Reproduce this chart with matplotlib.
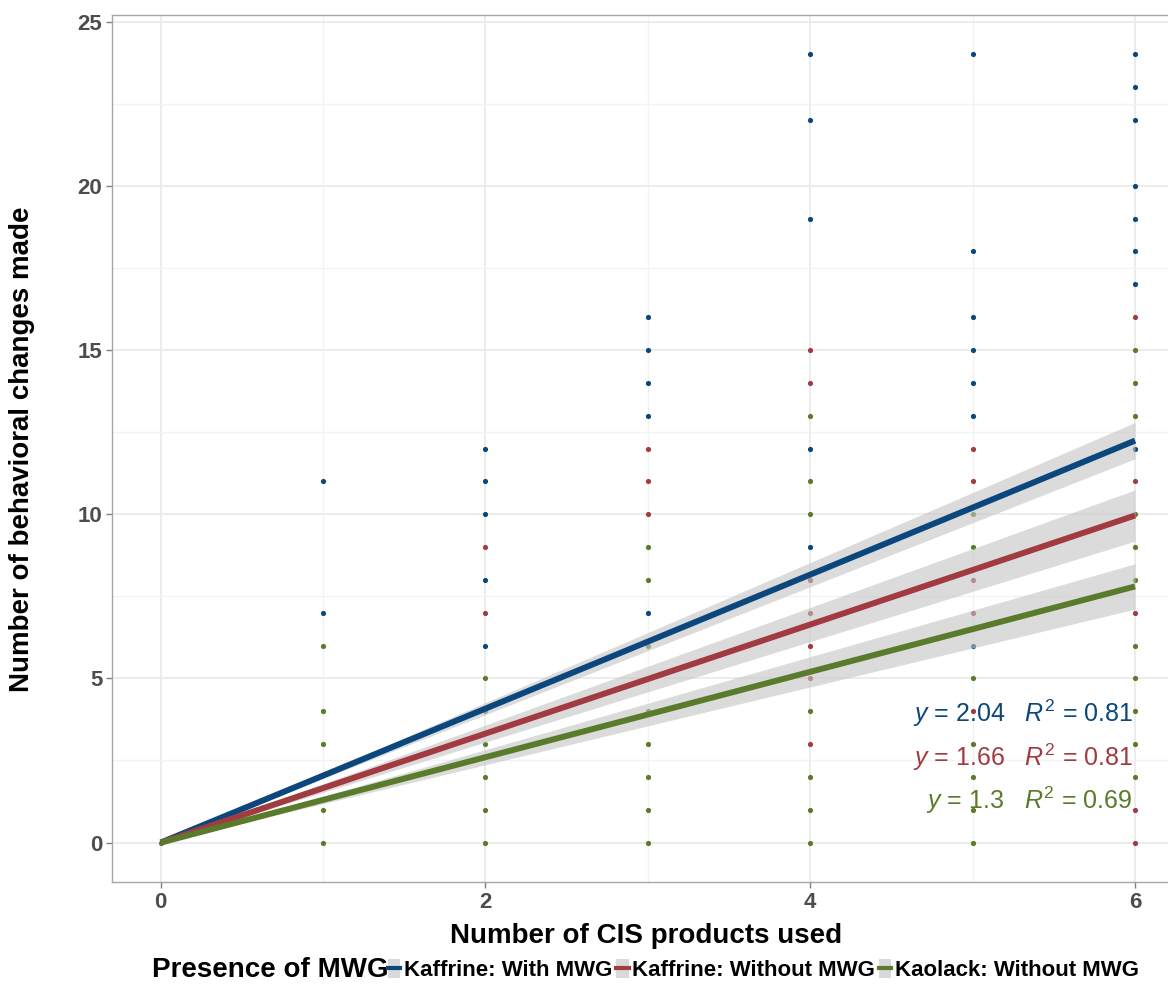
import matplotlib
matplotlib.use("Agg")
import matplotlib.pyplot as plt
import numpy as np
from matplotlib.lines import Line2D
from matplotlib.patches import Patch
from matplotlib.legend_handler import HandlerTuple

plt.rcParams['font.family'] = ['Liberation Sans', 'DejaVu Sans']
plt.rcParams['mathtext.fontset'] = 'custom'
plt.rcParams['mathtext.it'] = 'Liberation Sans:italic'
plt.rcParams['mathtext.rm'] = 'Liberation Sans'

groups = ["Kaffrine: With MWG", "Kaffrine: Without MWG", "Kaolack: Without MWG"]
colors = ["#0B477C", "#A23B40", "#5A7A2C"]

blue_x = [1, 1, 2, 2, 2, 2, 2, 3, 3, 3, 3, 3, 4, 4, 4, 4, 4,
          5, 5, 5, 5, 5, 5, 5, 6, 6, 6, 6, 6, 6, 6, 6]
blue_y = [11, 7, 12, 11, 10, 8, 6, 16, 15, 14, 13, 7, 24, 22, 19, 12, 9,
          24, 18, 16, 15, 14, 13, 6, 24, 23, 22, 20, 19, 18, 17, 12]

red_x = [2, 2, 3, 3, 3, 4, 4, 4, 4, 4, 4, 4, 5, 5, 5, 5, 5, 6, 6, 6, 6, 6]
red_y = [9, 7, 12, 11, 10, 15, 14, 8, 7, 6, 5, 3, 12, 11, 8, 7, 4, 16, 11, 7, 1, 0]

green_x = [0, 1, 1, 1, 1, 1, 2, 2, 2, 2, 2, 2, 3, 3, 3, 3, 3, 3, 3, 3,
           4, 4, 4, 4, 4, 4, 4, 5, 5, 5, 5, 5, 5, 5,
           6, 6, 6, 6, 6, 6, 6, 6, 6, 6, 6]
green_y = [0, 6, 4, 3, 1, 0, 5, 4, 3, 2, 1, 0, 9, 8, 6, 4, 3, 2, 1, 0,
           13, 11, 10, 4, 2, 1, 0, 10, 9, 5, 3, 2, 1, 0,
           15, 14, 13, 10, 9, 8, 6, 5, 4, 3, 2]

slopes = [2.04, 1.66, 1.3]
r2 = [0.81, 0.81, 0.69]
ci_per_x = [0.092, 0.13, 0.115]   # half-width of confidence band per unit x

points = [(blue_x, blue_y), (red_x, red_y), (green_x, green_y)]

W, H = 1168, 986
fig = plt.figure(figsize=(W / 100, H / 100), dpi=100)
ax_left, ax_right, ax_top, ax_bot = 112, 1183.75, 15, 882
ax = fig.add_axes([ax_left / W, (H - ax_bot) / H, (ax_right - ax_left) / W, (ax_bot - ax_top) / H])
ax.set_xlim(-0.3, 6.3)
ax.set_ylim(-1.2, 25.2)

ax.set_xticks([0, 2, 4, 6])
ax.set_xticks([1, 3, 5], minor=True)
ax.set_yticks([0, 5, 10, 15, 20, 25])
ax.set_yticks([2.5, 7.5, 12.5, 17.5, 22.5], minor=True)
ax.grid(True, which='major', color='#EBEBEB', lw=1.3, zorder=0)
ax.grid(True, which='minor', color='#F3F3F3', lw=1.0, zorder=0)
ax.set_axisbelow(True)
for s in ax.spines.values():
    s.set_color('#A6A6A6')
    s.set_linewidth(1.0)
ax.tick_params(which='major', length=4, width=1.0, color='#7F7F7F',
               labelsize=16, labelcolor='#4D4D4D', pad=3)
ax.tick_params(which='minor', length=0)
for lab in ax.get_xticklabels() + ax.get_yticklabels():
    lab.set_fontweight('bold')

for (px, py), c in zip(points, colors):
    ax.scatter(px, py, s=14, color=c, zorder=2, linewidths=0)

xs = np.linspace(0, 6, 100)
for b, h in zip(slopes, ci_per_x):
    ax.fill_between(xs, b * xs - h * xs, b * xs + h * xs, color='#C4C4C4', alpha=0.6,
                    lw=0, zorder=3)
for b, c in zip(slopes, colors):
    ax.plot(xs, b * xs, color=c, lw=4.3, zorder=4, solid_capstyle='butt')

ann_y = [0.195, 0.144, 0.0946]
for b, r, c, yy in zip(slopes, r2, colors, ann_y):
    ax.text(5.985, yy, f"$y$ = {b:g}   $R^2$ = {r:.2f}", color=c, fontsize=18,
            ha='right', va='center', transform=ax.get_xaxis_transform(), zorder=5)

fig.text(646 / W, 1 - 936 / H, "Number of CIS products used", ha='center', va='center',
         fontsize=20, fontweight='bold')
fig.text(22 / W, 1 - 449 / H, "Number of behavioral changes made", ha='center',
         va='center', rotation=90, fontsize=20, fontweight='bold')

fig.text(152 / W, 1 - 970 / H, "Presence of MWG", ha='left', va='center',
         fontsize=20, fontweight='bold')
handles = [(Patch(facecolor='#D9D9D9', edgecolor='none'),
            Line2D([], [], color=c, lw=3)) for c in colors]
leg = fig.legend(handles, groups, loc='center left', bbox_to_anchor=(388 / W, 1 - 970 / H),
                 ncol=3, frameon=False, handlelength=0.55, handleheight=0.9,
                 handletextpad=0.15, columnspacing=0.2, borderaxespad=0, borderpad=0,
                 prop={'weight': 'bold', 'size': 16},
                 handler_map={tuple: HandlerTuple(ndivide=1)})

fig.savefig("out.png", dpi=100)
